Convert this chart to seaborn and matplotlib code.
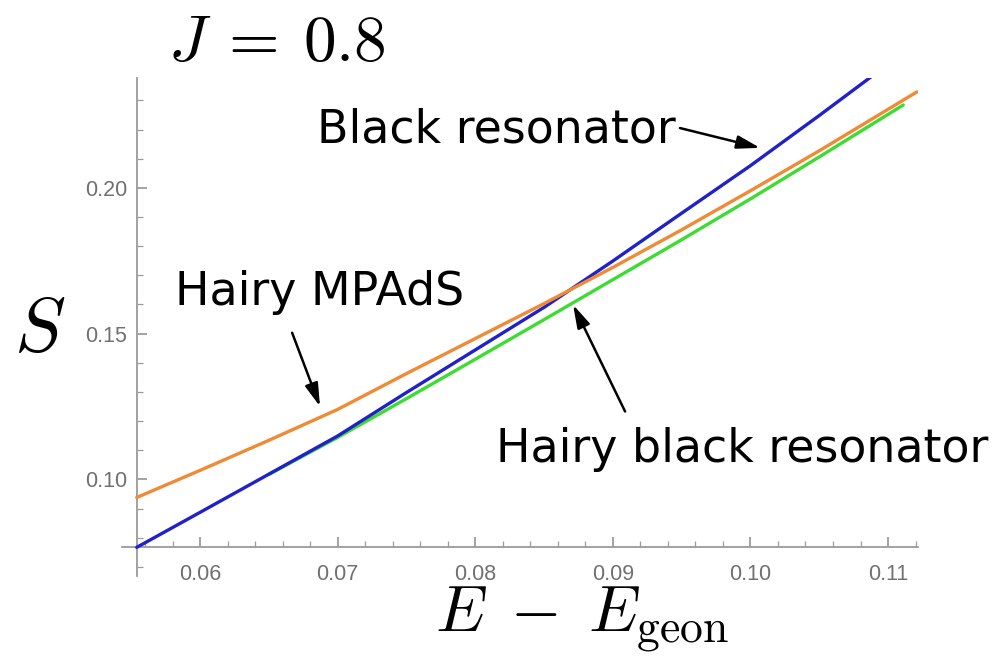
import numpy as np
import pandas as pd
import matplotlib
matplotlib.use("Agg")
import matplotlib.pyplot as plt
from matplotlib.ticker import MultipleLocator
import seaborn as sns

# Energy above the geon, E - E_geon
energy = [0.0554, 0.060, 0.065, 0.070, 0.075, 0.080, 0.085,
          0.090, 0.095, 0.100, 0.105, 0.1121]

# Entropy of the black resonator branch
s_black_resonator = [0.0767, 0.0887, 0.1018, 0.1149, 0.1298, 0.1444, 0.1590,
                     0.1749, 0.1913, 0.2076, 0.2248, 0.2498]

# Entropy of the hairy MPAdS branch
s_hairy_mpads = [0.0938, 0.1031, 0.1134, 0.1240, 0.1363, 0.1483, 0.1603,
                 0.1727, 0.1856, 0.1990, 0.2127, 0.2329]

# Hairy black resonator branch (bifurcates from the black resonator)
energy_hbr = [0.065, 0.070, 0.075, 0.080, 0.085, 0.090, 0.095, 0.100, 0.105, 0.1111]
s_hairy_black_resonator = [0.1017, 0.1144, 0.1277, 0.1412, 0.1548, 0.1685,
                           0.1822, 0.1962, 0.2106, 0.2284]

x_ticks = [0.06, 0.07, 0.08, 0.09, 0.10, 0.11]
y_ticks = [0.10, 0.15, 0.20]

x_origin, y_origin = 0.055422, 0.076712
x_limits = (0.054331, 0.112180)
y_limits = (0.066877, 0.237671)

sns.set_style("white")
plt.rcParams["mathtext.fontset"] = "cm"
plt.rcParams["font.family"] = ["DejaVu Sans"]
plt.rcParams["text.color"] = "black"

fig = plt.figure(figsize=(10.02, 6.57), dpi=100)
ax = fig.add_axes([0.1218, 0.1233, 0.7944, 0.7580])

blue = "#2121c9"
orange = "#ef8a35"
green = "#3cdc32"

df_hbr = pd.DataFrame({"E": energy_hbr, "S": s_hairy_black_resonator})
df_br = pd.DataFrame({"E": energy, "S": s_black_resonator})
df_mp = pd.DataFrame({"E": energy, "S": s_hairy_mpads})

sns.lineplot(data=df_hbr, x="E", y="S", ax=ax, color=green, lw=2.4,
             sort=False, estimator=None, zorder=2)
sns.lineplot(data=df_br, x="E", y="S", ax=ax, color=blue, lw=2.4,
             sort=False, estimator=None, zorder=3)
sns.lineplot(data=df_mp, x="E", y="S", ax=ax, color=orange, lw=2.4,
             sort=False, estimator=None, zorder=4)

ax.set_xlim(*x_limits)
ax.set_ylim(*y_limits)

# Axes crossing at the plot origin
for side in ("top", "right"):
    ax.spines[side].set_visible(False)
ax.spines["left"].set_position(("data", x_origin))
ax.spines["bottom"].set_position(("data", y_origin))
for side in ("left", "bottom"):
    ax.spines[side].set_color("#9a9a9a")
    ax.spines[side].set_linewidth(1.3)

ax.set_xticks(x_ticks)
ax.set_xticklabels([f"{v:.2f}" for v in x_ticks])
ax.set_yticks(y_ticks)
ax.set_yticklabels([f"{v:.2f}" for v in y_ticks])
ax.xaxis.set_minor_locator(MultipleLocator(0.002))
ax.yaxis.set_minor_locator(MultipleLocator(0.01))
ax.tick_params(which="both", bottom=True, left=True, top=False, right=False)
ax.tick_params(which="major", direction="in", length=7, width=1.1,
               color="#8a8a8a", labelcolor="#707070", labelsize=15.5)
ax.tick_params(which="minor", direction="in", length=4, width=0.9,
               color="#9a9a9a")
ax.tick_params(axis="x", which="major", pad=12)
ax.tick_params(axis="y", which="major", pad=7)
for lab in ax.get_xticklabels() + ax.get_yticklabels():
    lab.set_fontfamily("Liberation Sans")
ax.set_xlabel("")
ax.set_ylabel("")
ax.grid(False)

# Axis titles and panel title
fig.text(0.581, 0.057, r"$E\;-\;E_{\rm geon}$", fontsize=47, ha="center", va="center")
fig.text(0.040, 0.497, r"$S$", fontsize=55, ha="center", va="center")
fig.text(0.168, 0.935, r"$J\:=\:0.8$", fontsize=47, ha="left", va="center")

arrow = dict(arrowstyle="-|>,head_length=0.7,head_width=0.2", color="black",
             lw=1.8, shrinkA=0, shrinkB=0, mutation_scale=20)

ax.annotate("", xy=(0.1007, 0.2137), xytext=(0.09488, 0.2205),
            arrowprops=arrow, annotation_clip=False)
ax.text(0.0815, 0.2199, "Black resonator", fontsize=33, ha="center", va="center")

ax.annotate("", xy=(0.06872, 0.1250), xytext=(0.06669, 0.1503),
            arrowprops=arrow, annotation_clip=False)
ax.text(0.06872, 0.1640, "Hairy MPAdS", fontsize=33, ha="center", va="center")

ax.annotate("", xy=(0.08711, 0.1599), xytext=(0.09089, 0.1233),
            arrowprops=arrow, annotation_clip=False)
ax.text(0.09939, 0.1103, "Hairy black resonator", fontsize=33,
        ha="center", va="center", clip_on=False)

fig.savefig("out.png", dpi=100)
